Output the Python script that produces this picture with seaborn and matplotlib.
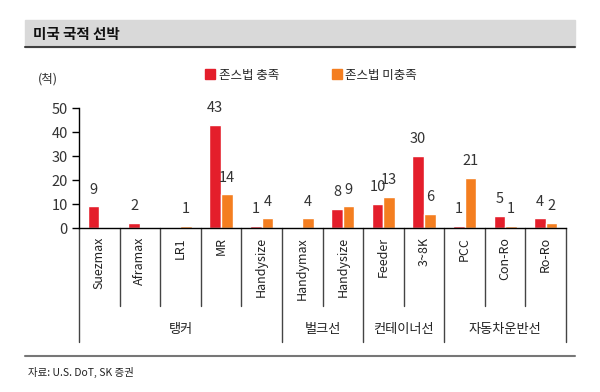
import matplotlib
matplotlib.use("Agg")
import matplotlib.pyplot as plt
import seaborn as sns
import pandas as pd
from matplotlib.patches import Rectangle
from matplotlib.lines import Line2D

# chart data
ship_types = ["Suezmax", "Aframax", "LR1", "MR", "Handysize",
              "Handymax", "Handysize", "Feeder", "3~8K", "PCC", "Con-Ro", "Ro-Ro"]
ship_groups = ["탱커", "탱커", "탱커", "탱커", "탱커",
               "벌크선", "벌크선", "컨테이너선", "컨테이너선",
               "자동차운반선", "자동차운반선", "자동차운반선"]
jones_ok = [9, 2, 0, 43, 1, 0, 8, 10, 30, 1, 5, 4]
jones_not = [0, 0, 1, 14, 4, 4, 9, 13, 6, 21, 1, 2]
series_names = ["존스법 충족", "존스법 미충족"]
y_ticks = [0, 10, 20, 30, 40, 50]

W, H = 600, 392
RED = "#E41E2B"
ORANGE = "#F47E20"

sns.set_theme(style="white")
plt.rcParams["font.family"] = ["Noto Sans CJK KR", "DejaVu Sans"]

keys = [f"{g}_{i}" for i, g in enumerate(ship_groups)]
df = pd.DataFrame({
    "key": keys * 2,
    "value": jones_ok + jones_not,
    "series": [series_names[0]] * len(keys) + [series_names[1]] * len(keys),
})

fig = plt.figure(figsize=(W / 100, H / 100), dpi=100)
ax_left, ax_right, ax_top, ax_bottom = 79, 566, 108, 228
ax = fig.add_axes([ax_left / W, 1 - ax_bottom / H,
                   (ax_right - ax_left) / W, (ax_bottom - ax_top) / H])

sns.barplot(data=df, x="key", y="value", hue="series", order=keys,
            hue_order=series_names, palette=[RED, ORANGE],
            width=0.57, gap=0, saturation=1, ax=ax, legend=False)

for cont in ax.containers:
    labels = [f"{v:g}" if v > 0 else "" for v in cont.datavalues]
    ax.bar_label(cont, labels=labels, padding=7, fontsize=10.5, color="#333333")

ax.set_xlim(-0.5, len(keys) - 0.5)
ax.set_ylim(0, 50)
ax.set_yticks(y_ticks)
ax.tick_params(axis="y", left=True, length=5, width=1, color="black",
               labelsize=10.5, labelcolor="#333333", pad=3)
ax.tick_params(axis="x", bottom=False, labelbottom=False)
ax.set_xlabel("")
ax.set_ylabel("")
for s in ["top", "right"]:
    ax.spines[s].set_visible(False)
for s in ["left", "bottom"]:
    ax.spines[s].set_color("black")
    ax.spines[s].set_linewidth(1)


def ay(py):
    # pixel row -> axes fraction
    return (ax_bottom - py) / (ax_bottom - ax_top)


trans = ax.get_xaxis_transform()
# category labels
for i, name in enumerate(ship_types):
    ax.text(i, ay(237), name, rotation=90, ha="center", va="top",
            fontsize=9, color="#222222", transform=trans)

# separators
group_edges = [0]
for i in range(1, len(ship_groups)):
    if ship_groups[i] != ship_groups[i - 1]:
        group_edges.append(i)
group_edges.append(len(ship_groups))
for i in range(1, len(ship_groups)):
    if i in group_edges:
        continue
    ax.plot([i - 0.5, i - 0.5], [0, ay(306)], color="#444444", lw=1,
            transform=trans, clip_on=False)
for e in group_edges:
    ax.plot([e - 0.5, e - 0.5], [0, ay(342)], color="#444444", lw=1,
            transform=trans, clip_on=False)
for a, b in zip(group_edges[:-1], group_edges[1:]):
    ax.text((a + b - 1) / 2, ay(329), ship_groups[a], ha="center", va="center",
            fontsize=9.5, color="#222222", transform=trans)

# legend
handles = [Rectangle((0, 0), 1, 1, color=RED), Rectangle((0, 0), 1, 1, color=ORANGE)]
fig.legend(handles, series_names, loc="center left",
           bbox_to_anchor=(205 / W, 1 - 75 / H), ncol=2, frameon=False,
           fontsize=9, handlelength=0.8, handleheight=0.8, handletextpad=0.3,
           columnspacing=4.2, borderpad=0, borderaxespad=0)

fig.text(48 / W, 1 - 79 / H, "(척)", ha="center", va="center",
         fontsize=9, color="#333333")

# title bar
fig.patches.append(Rectangle((25 / W, 1 - 47 / H), 550 / W, 27 / H,
                             transform=fig.transFigure, color="#D9D9D9", zorder=0))
fig.lines.append(Line2D([25 / W, 575 / W], [1 - 47 / H, 1 - 47 / H],
                        transform=fig.transFigure, color="#404040", lw=1.5))
fig.text(33 / W, 1 - 34 / H, "미국 국적 선박", ha="left", va="center",
         fontsize=10.5, fontweight="bold", color="#111111")

# footer
fig.lines.append(Line2D([25 / W, 575 / W], [1 - 356 / H, 1 - 356 / H],
                        transform=fig.transFigure, color="#777777", lw=1.5))
fig.text(28 / W, 1 - 372 / H, "자료: U.S. DoT, SK 증권", ha="left", va="center",
         fontsize=7.5, color="#222222")

fig.savefig("out.png", dpi=100)
